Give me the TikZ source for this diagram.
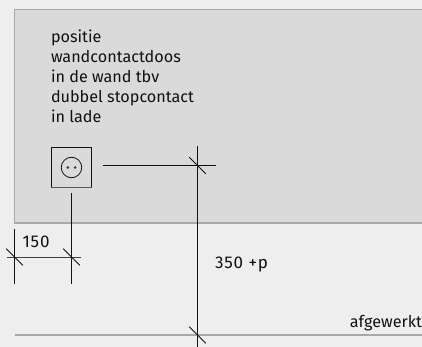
\documentclass[tikz,border=0pt]{standalone}
\usepackage{fontspec}
\setmainfont{Fira Sans}
\definecolor{pagebg}{HTML}{EEEEEE}
\definecolor{wall}{HTML}{DADADA}
\definecolor{edge}{HTML}{A8A8A8}
\definecolor{ink}{HTML}{111111}
\tikzset{
  dimline/.style={draw=ink,line width=1pt},
  tick/.style={draw=ink,line width=0.9pt},
  lbl/.style={inner sep=0pt,outer sep=0pt,text=ink,font=\fontsize{16.2}{20}\selectfont,anchor=base west},
  numlbl/.style={lbl,font=\fontsize{17}{20}\selectfont\addfontfeatures{LetterSpace=5}},
}
\begin{document}
\begin{tikzpicture}[x=1pt,y=-1pt]
\useasboundingbox (0,0) rectangle (422,347);
\fill[pagebg] (0,0) rectangle (422,347);
\path[clip] (0,0) rectangle (422,347);
\draw[fill=wall,draw=edge,line width=1.2pt] (14.5,9.5) rectangle (440,223);
% text
\node[lbl,align=left,anchor=north west] (note) at (51,30.2) {positie\\wandcontactdoos\\in de wand tbv\\dubbel stopcontact\\in lade};
\node[numlbl] (w) at (22.5,247.5) {150};
\node[numlbl] (h) at (215,268) {350 +p};
\node[lbl,anchor=base east] (f) at (422,327.5) {afgewerkt};
% floor
\coordinate (fa) at (14.5,335);
\coordinate (fb) at (440,335);
\draw[edge,line width=1.2pt] (fa) -- (fb);
% socket
\node[draw=ink,line width=1pt,minimum size=40.5pt,inner sep=0pt,outer sep=0pt] (box) at (71.3,167.3) {};
\draw[draw=ink!70,line width=1.2pt] (51,187.5) -- (91.5,187.5);
\node[draw=ink,line width=0.8pt,circle,minimum size=20.5pt,inner sep=0pt] (sock) at (71.5,167.5) {};
\fill[ink!80] (67.8,167.5) circle (1.5);
\fill[ink!80] (75,167.5) circle (1.5);
% dimensions
\coordinate (a1) at (102.5,165.5); \coordinate (a2) at (215.5,165.5);
\draw[dimline] (a1) -- (a2);
\coordinate (b1) at (197.5,146); \coordinate (b2) at (197.5,347);
\draw[dimline] (b1) -- (b2);
\coordinate (c1) at (71.5,192.5); \coordinate (c2) at (71.5,284);
\draw[dimline] (c1) -- (c2);
\coordinate (d1) at (14.5,229); \coordinate (d2) at (14.5,284);
\draw[dimline] (d1) -- (d2);
\coordinate (e1) at (7,257); \coordinate (e2) at (81,257);
\draw[dimline,draw=ink!80] (e1) -- (e2);
% ticks
\foreach \cx/\cy in {197.5/165.5,197.5/335,71.5/257,14.5/257}{
  \draw[tick] (\cx-8.3,\cy-8.3) -- (\cx+8.3,\cy+8.3);
}
\end{tikzpicture}
\end{document}
